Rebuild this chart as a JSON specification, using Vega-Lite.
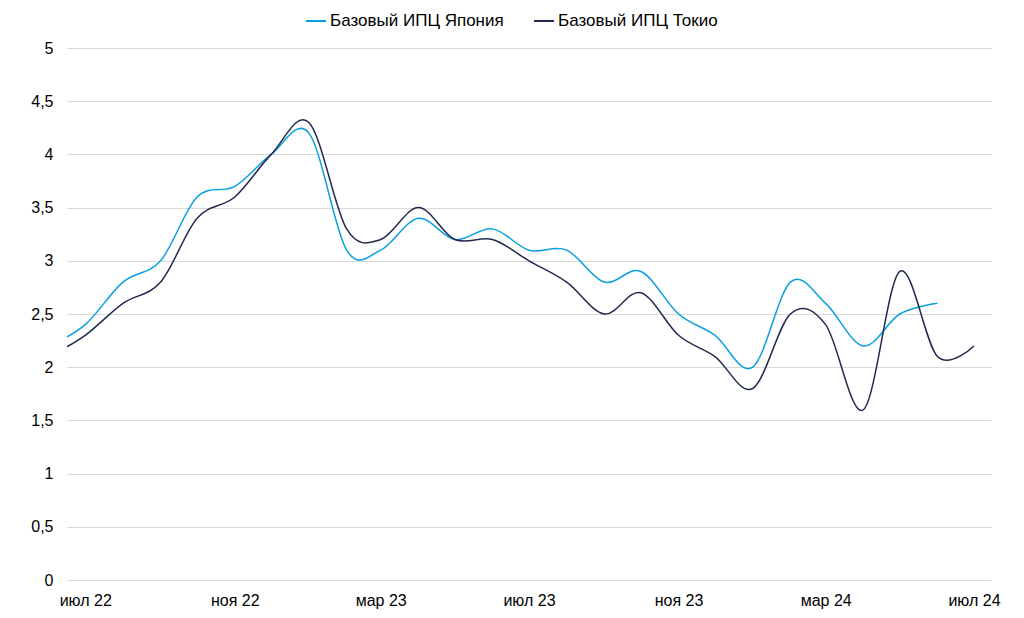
{
  "$schema": "https://vega.github.io/schema/vega-lite/v6.json",
  "width": 924,
  "height": 532,
  "autosize": {"type": "none"},
  "padding": {"left": 67, "top": 48, "right": 33, "bottom": 38},
  "background": "white",
  "config": {
    "font": "Liberation Sans",
    "view": {"stroke": null}
  },
  "data": {
    "values": [
      {"date": "2022-06-01T00:00", "series": "Базовый ИПЦ Япония", "value": 2.2},
      {"date": "2022-07-01T00:00", "series": "Базовый ИПЦ Япония", "value": 2.4},
      {"date": "2022-08-01T00:00", "series": "Базовый ИПЦ Япония", "value": 2.8},
      {"date": "2022-09-01T00:00", "series": "Базовый ИПЦ Япония", "value": 3.0},
      {"date": "2022-10-01T00:00", "series": "Базовый ИПЦ Япония", "value": 3.6},
      {"date": "2022-11-01T00:00", "series": "Базовый ИПЦ Япония", "value": 3.7},
      {"date": "2022-12-01T00:00", "series": "Базовый ИПЦ Япония", "value": 4.0},
      {"date": "2023-01-01T00:00", "series": "Базовый ИПЦ Япония", "value": 4.2},
      {"date": "2023-02-01T00:00", "series": "Базовый ИПЦ Япония", "value": 3.1},
      {"date": "2023-03-01T00:00", "series": "Базовый ИПЦ Япония", "value": 3.1},
      {"date": "2023-04-01T00:00", "series": "Базовый ИПЦ Япония", "value": 3.4},
      {"date": "2023-05-01T00:00", "series": "Базовый ИПЦ Япония", "value": 3.2},
      {"date": "2023-06-01T00:00", "series": "Базовый ИПЦ Япония", "value": 3.3},
      {"date": "2023-07-01T00:00", "series": "Базовый ИПЦ Япония", "value": 3.1},
      {"date": "2023-08-01T00:00", "series": "Базовый ИПЦ Япония", "value": 3.1},
      {"date": "2023-09-01T00:00", "series": "Базовый ИПЦ Япония", "value": 2.8},
      {"date": "2023-10-01T00:00", "series": "Базовый ИПЦ Япония", "value": 2.9},
      {"date": "2023-11-01T00:00", "series": "Базовый ИПЦ Япония", "value": 2.5},
      {"date": "2023-12-01T00:00", "series": "Базовый ИПЦ Япония", "value": 2.3},
      {"date": "2024-01-01T00:00", "series": "Базовый ИПЦ Япония", "value": 2.0},
      {"date": "2024-02-01T00:00", "series": "Базовый ИПЦ Япония", "value": 2.8},
      {"date": "2024-03-01T00:00", "series": "Базовый ИПЦ Япония", "value": 2.6},
      {"date": "2024-04-01T00:00", "series": "Базовый ИПЦ Япония", "value": 2.2},
      {"date": "2024-05-01T00:00", "series": "Базовый ИПЦ Япония", "value": 2.5},
      {"date": "2024-06-01T00:00", "series": "Базовый ИПЦ Япония", "value": 2.6},
      {"date": "2022-06-01T00:00", "series": "Базовый ИПЦ Токио", "value": 2.1},
      {"date": "2022-07-01T00:00", "series": "Базовый ИПЦ Токио", "value": 2.3},
      {"date": "2022-08-01T00:00", "series": "Базовый ИПЦ Токио", "value": 2.6},
      {"date": "2022-09-01T00:00", "series": "Базовый ИПЦ Токио", "value": 2.8},
      {"date": "2022-10-01T00:00", "series": "Базовый ИПЦ Токио", "value": 3.4},
      {"date": "2022-11-01T00:00", "series": "Базовый ИПЦ Токио", "value": 3.6},
      {"date": "2022-12-01T00:00", "series": "Базовый ИПЦ Токио", "value": 4.0},
      {"date": "2023-01-01T00:00", "series": "Базовый ИПЦ Токио", "value": 4.3},
      {"date": "2023-02-01T00:00", "series": "Базовый ИПЦ Токио", "value": 3.3},
      {"date": "2023-03-01T00:00", "series": "Базовый ИПЦ Токио", "value": 3.2},
      {"date": "2023-04-01T00:00", "series": "Базовый ИПЦ Токио", "value": 3.5},
      {"date": "2023-05-01T00:00", "series": "Базовый ИПЦ Токио", "value": 3.2},
      {"date": "2023-06-01T00:00", "series": "Базовый ИПЦ Токио", "value": 3.2},
      {"date": "2023-07-01T00:00", "series": "Базовый ИПЦ Токио", "value": 3.0},
      {"date": "2023-08-01T00:00", "series": "Базовый ИПЦ Токио", "value": 2.8},
      {"date": "2023-09-01T00:00", "series": "Базовый ИПЦ Токио", "value": 2.5},
      {"date": "2023-10-01T00:00", "series": "Базовый ИПЦ Токио", "value": 2.7},
      {"date": "2023-11-01T00:00", "series": "Базовый ИПЦ Токио", "value": 2.3},
      {"date": "2023-12-01T00:00", "series": "Базовый ИПЦ Токио", "value": 2.1},
      {"date": "2024-01-01T00:00", "series": "Базовый ИПЦ Токио", "value": 1.8},
      {"date": "2024-02-01T00:00", "series": "Базовый ИПЦ Токио", "value": 2.5},
      {"date": "2024-03-01T00:00", "series": "Базовый ИПЦ Токио", "value": 2.4},
      {"date": "2024-04-01T00:00", "series": "Базовый ИПЦ Токио", "value": 1.6},
      {"date": "2024-05-01T00:00", "series": "Базовый ИПЦ Токио", "value": 2.9},
      {"date": "2024-06-01T00:00", "series": "Базовый ИПЦ Токио", "value": 2.1},
      {"date": "2024-07-01T00:00", "series": "Базовый ИПЦ Токио", "value": 2.2}
    ]
  },
  "mark": {"type": "line", "interpolate": "cardinal", "tension": 0, "strokeWidth": 1.5, "clip": true},
  "encoding": {
    "x": {
      "field": "date",
      "type": "temporal",
      "scale": {"domain": [{"year": 2022, "month": 6, "date": 16}, {"year": 2024, "month": 7, "date": 15}]},
      "axis": {
        "title": null,
        "values": [
          {"year": 2022, "month": 7, "date": 1},
          {"year": 2022, "month": 11, "date": 1},
          {"year": 2023, "month": 3, "date": 1},
          {"year": 2023, "month": 7, "date": 1},
          {"year": 2023, "month": 11, "date": 1},
          {"year": 2024, "month": 3, "date": 1},
          {"year": 2024, "month": 7, "date": 1}
        ],
        "labelExpr": "['янв','фев','мар','апр','май','июн','июл','авг','сен','окт','ноя','дек'][month(datum.value)] + ' ' + timeFormat(datum.value, '%y')",
        "domain": false,
        "ticks": false,
        "grid": false,
        "labelFlush": false,
        "labelOverlap": false,
        "labelBound": false,
        "labelPadding": 12,
        "labelFontSize": 16,
        "labelColor": "#000000",
        "labelFont": "Liberation Sans"
      }
    },
    "y": {
      "field": "value",
      "type": "quantitative",
      "scale": {"domain": [0, 5], "nice": false, "zero": true},
      "axis": {
        "title": null,
        "values": [0, 0.5, 1, 1.5, 2, 2.5, 3, 3.5, 4, 4.5, 5],
        "labelExpr": "replace(format(datum.value, '~g'), '.', ',')",
        "domain": false,
        "ticks": false,
        "grid": true,
        "gridColor": "#d9d9d9",
        "gridWidth": 1,
        "labelPadding": 14,
        "labelFontSize": 16,
        "labelColor": "#000000",
        "labelFont": "Liberation Sans"
      }
    },
    "color": {
      "field": "series",
      "type": "nominal",
      "scale": {"domain": ["Базовый ИПЦ Япония", "Базовый ИПЦ Токио"], "range": ["#0AA0E0", "#222B4F"]},
      "legend": {
        "title": null,
        "orient": "none",
        "direction": "horizontal",
        "legendX": 238,
        "legendY": -38,
        "symbolType": "stroke",
        "symbolSize": 400,
        "symbolStrokeWidth": 2,
        "labelFontSize": 17,
        "labelLimit": 400,
        "labelColor": "#000000",
        "labelFont": "Liberation Sans",
        "labelOffset": 3,
        "columnPadding": 26
      }
    }
  }
}
